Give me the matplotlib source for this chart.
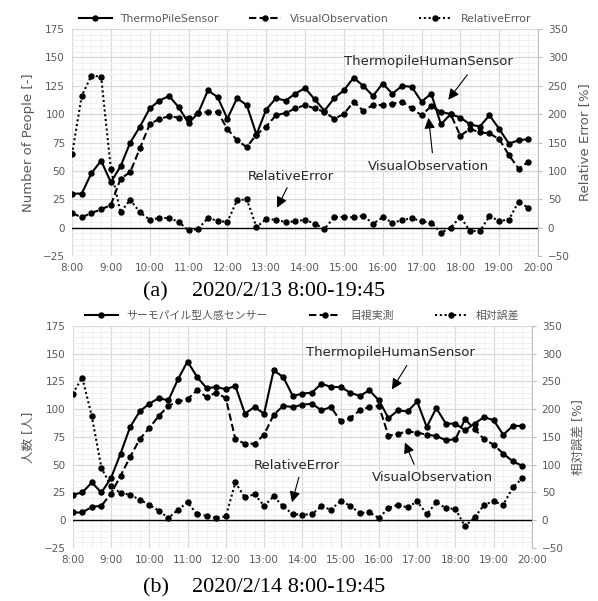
import numpy as np
import matplotlib
matplotlib.use("Agg")
import matplotlib.pyplot as plt
from matplotlib.lines import Line2D
from matplotlib.ticker import MultipleLocator

plt.rcParams["font.family"] = ["DejaVu Sans", "Noto Sans CJK JP"]

SLOTS = [
    "8:00", "8:15", "8:30", "8:45", "9:00", "9:15", "9:30", "9:45",
    "10:00", "10:15", "10:30", "10:45", "11:00", "11:15", "11:30", "11:45",
    "12:00", "12:15", "12:30", "12:45", "13:00", "13:15", "13:30", "13:45",
    "14:00", "14:15", "14:30", "14:45", "15:00", "15:15", "15:30", "15:45",
    "16:00", "16:15", "16:30", "16:45", "17:00", "17:15", "17:30", "17:45",
    "18:00", "18:15", "18:30", "18:45", "19:00", "19:15", "19:30", "19:45",
]
HOURS = [int(s.split(":")[0]) + int(s.split(":")[1]) / 60 for s in SLOTS]

# (a) 2020/2/13
thermo_a = [30, 30, 48, 59, 40, 54, 75, 89, 105, 112, 116, 106, 92, 101, 121, 115,
            96, 114, 108, 82, 104, 114, 112, 118, 123, 113, 103, 114, 121, 132, 125, 116,
            127, 118, 125, 124, 111, 118, 91, 100, 97, 91, 89, 99, 87, 74, 77, 78]
visual_a = [13, 9, 13, 16, 20, 43, 49, 70, 91, 96, 98, 97, 97, 101, 102, 102,
            87, 77, 71, 82, 89, 99, 101, 105, 108, 105, 102, 96, 100, 111, 103, 108,
            108, 109, 111, 105, 99, 107, 102, 100, 81, 87, 84, 83, 78, 64, 52, 58]
relerr_a = [129, 232, 268, 266, 104, 27, 49, 27, 14, 17, 17, 10, -5, -2, 17, 12,
            10, 48, 50, 1, 15, 14, 10, 11, 14, 7, -2, 18, 19, 18, 21, 7,
            18, 9, 13, 17, 11, 9, -9, 0, 19, -6, -6, 20, 12, 14, 46, 35]

# (b) 2020/2/14
thermo_b = [23, 25, 34, 25, 38, 60, 84, 98, 105, 110, 108, 127, 143, 129, 119, 120,
            118, 121, 96, 102, 96, 135, 129, 112, 114, 115, 123, 120, 120, 115, 112, 117,
            108, 92, 99, 98, 107, 84, 101, 87, 87, 81, 87, 93, 90, 77, 85, 85]
visual_b = [7, 7, 12, 13, 24, 40, 57, 73, 83, 94, 103, 107, 109, 117, 111, 115,
            110, 73, 69, 69, 77, 95, 103, 102, 104, 105, 99, 102, 89, 92, 99, 102,
            103, 76, 78, 80, 79, 77, 76, 72, 73, 91, 82, 73, 68, 60, 53, 49]
relerr_b = [228, 257, 187, 94, 62, 49, 46, 37, 28, 17, 4, 19, 32, 11, 8, 4,
            7, 68, 41, 47, 26, 43, 25, 11, 10, 11, 25, 19, 35, 26, 13, 14,
            4, 22, 28, 23, 34, 11, 32, 22, 20, -11, 5, 28, 34, 28, 59, 76]

LABELS_A = ["ThermoPileSensor", "VisualObservation", "RelativeError"]
LABELS_B = ["サーモパイル型人感センサー", "目視実測", "相対誤差"]

GRAY = "#595959"
STYLES = ["-", (0, (3.5, 1.6)), (0, (1, 1.3))]

fig = plt.figure(figsize=(5.98, 6.01), dpi=100)


def panel(rect, thermo, visual, relerr, labels, ylab, rylab, notes, leg_kw, lab_size):
    ax = fig.add_axes(rect)
    ax2 = ax.twinx()
    ax.set_xlim(8, 20)
    ax.set_ylim(-25, 175)
    ax2.set_ylim(-50, 350)
    ax.xaxis.set_major_locator(MultipleLocator(1))
    ax.xaxis.set_minor_locator(MultipleLocator(0.25))
    ax.yaxis.set_major_locator(MultipleLocator(25))
    ax.yaxis.set_minor_locator(MultipleLocator(5))
    ax2.yaxis.set_major_locator(MultipleLocator(50))
    ax.set_xticklabels([f"{int(h)}:00" for h in ax.get_xticks()])
    ax.grid(which="major", color="#d9d9d9", lw=0.9)
    ax.grid(which="minor", color="#eeeeee", lw=0.6)
    ax.set_axisbelow(True)
    for a in (ax, ax2):
        for s in a.spines.values():
            s.set_visible(False)
    ax2.spines["right"].set_visible(True)
    ax2.spines["right"].set_color("#bfbfbf")
    ax.tick_params(which="both", length=0, colors=GRAY, labelsize=7.5, pad=5)
    ax2.tick_params(which="both", length=3, color="#bfbfbf", labelcolor=GRAY,
                    labelsize=7.5, pad=4)
    ax.axhline(0, color="black", lw=1.0, zorder=2)

    kw = dict(color="black", marker="o", markersize=3.6, lw=1.5)
    ax.plot(HOURS, thermo, linestyle=STYLES[0], zorder=3, **kw)
    ax.plot(HOURS, visual, linestyle=STYLES[1], zorder=3, **kw)
    ax2.plot(HOURS, relerr, linestyle=STYLES[2], **kw)

    ax.set_ylabel(ylab, color=GRAY, fontsize=lab_size, labelpad=6)
    ax2.set_ylabel(rylab, color=GRAY, fontsize=lab_size, labelpad=6)

    for txt, tpos, tail, head in notes:
        ax.text(tpos[0], tpos[1], txt, ha="center", va="center",
                fontsize=9.5, color="#262626", zorder=5)
        ax.annotate("", xy=head, xytext=tail,
                    arrowprops=dict(arrowstyle="-|>", color="black", lw=0.8,
                                    mutation_scale=16, shrinkA=0, shrinkB=0),
                    zorder=5)

    handles = [Line2D([], [], **kw, linestyle=st) for st in STYLES]
    ax.legend(handles, labels, loc="lower center", ncol=3, frameon=False,
              handlelength=3.0, numpoints=1, fontsize=7.8, labelcolor=GRAY,
              borderaxespad=0.1, **leg_kw)
    return ax


notes_a = [
    ("ThermopileHumanSensor", (17.18, 146), (18.18, 134.7), (17.69, 112.7)),
    ("VisualObservation", (17.18, 53.7), (17.28, 66), (17.18, 96.8)),
    ("RelativeError", (13.64, 44.9), (13.54, 35.2), (13.28, 17.6)),
]
notes_b = [
    ("ThermopileHumanSensor", (16.29, 151), (16.73, 139.4), (16.34, 117.8)),
    ("VisualObservation", (17.39, 38.7), (16.92, 50.4), (16.68, 70.1)),
    ("RelativeError", (13.86, 49.5), (13.91, 38.7), (13.73, 16.2)),
]

panel([0.1204, 0.574, 0.7793, 0.3777], thermo_a, visual_a, relerr_a, LABELS_A,
      "Number of People [-]", "Relative Error [%]", notes_a,
      dict(bbox_to_anchor=(0.5, 1.0), columnspacing=2.8), 9.5)
panel([0.1216, 0.0882, 0.768, 0.3694], thermo_b, visual_b, relerr_b, LABELS_B,
      "人数 [人]", "相対誤差 [%]", notes_b,
      dict(bbox_to_anchor=(0.5, 1.0), columnspacing=3.8), 9)

cap = dict(family="Liberation Serif", fontsize=16, va="center", color="black")
fig.text(143 / 598, 1 - 292 / 601, "(a)", ha="left", **cap)
fig.text(192 / 598, 1 - 292 / 601, "2020/2/13 8:00-19:45", ha="left", **cap)
fig.text(143 / 598, 1 - 588 / 601, "(b)", ha="left", **cap)
fig.text(192 / 598, 1 - 588 / 601, "2020/2/14 8:00-19:45", ha="left", **cap)

fig.savefig("out.png", dpi=100)
